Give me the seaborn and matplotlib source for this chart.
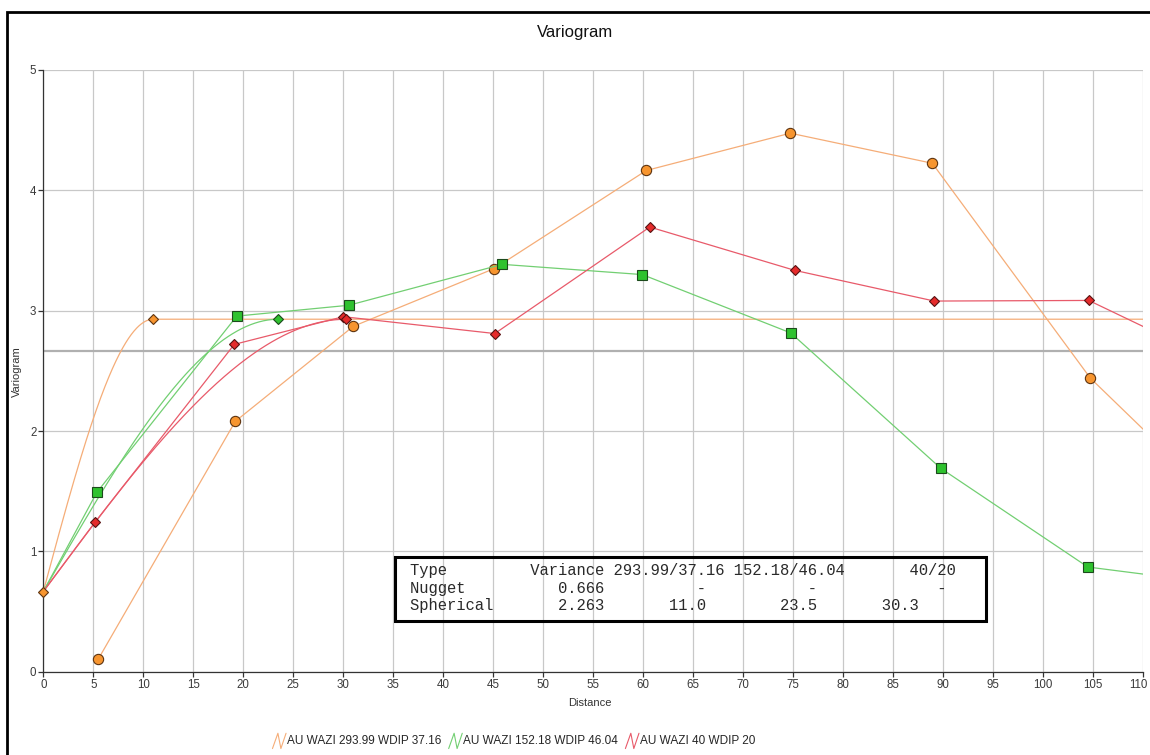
import numpy as np
import pandas as pd
import matplotlib
matplotlib.use("Agg")
import matplotlib.pyplot as plt
import seaborn as sns
from matplotlib.patches import Rectangle
from matplotlib.lines import Line2D
from matplotlib.legend_handler import HandlerBase
from matplotlib.transforms import ScaledTranslation

# ---- experimental variogram, one series per direction (azimuth / dip) ----
directions = ["293.99/37.16", "152.18/46.04", "40/20"]
legend_labels = ["AU WAZI 293.99 WDIP 37.16",
                 "AU WAZI 152.18 WDIP 46.04",
                 "AU WAZI 40 WDIP 20"]

lag_a = [5.5, 19.2, 31.0, 45.1, 60.3, 74.7, 88.9, 104.7, 119.5]
gam_a = [0.105, 2.08, 2.87, 3.35, 4.165, 4.475, 4.225, 2.44, 1.25]

lag_b = [0.0, 5.35, 19.35, 30.55, 45.9, 59.9, 74.75, 89.75, 104.45, 119.5]
gam_b = [0.666, 1.49, 2.955, 3.045, 3.385, 3.30, 2.815, 1.69, 0.87, 0.71]

lag_c = [0.0, 5.15, 19.1, 30.0, 45.15, 60.65, 75.15, 89.1, 104.55, 119.5]
gam_c = [0.666, 1.24, 2.72, 2.95, 2.81, 3.695, 3.335, 3.08, 3.085, 2.49]

# ---- fitted model: nugget + one spherical structure ----
nugget = 0.666
sill = 2.263
ranges = [11.0, 23.5, 30.3]
variance = 2.668

x_ticks = list(range(0, 111, 5))
y_ticks = [0, 1, 2, 3, 4, 5]

line_cols = ["#f5ad78", "#72cf72", "#e85a6a"]
fill_cols = ["#f7952f", "#2fc22f", "#e52b2b"]
edge_cols = ["#5e3410", "#1c4a1c", "#561212"]

sns.set_style("white")
plt.rcParams["font.family"] = ["Liberation Sans", "DejaVu Sans"]

W, H = 1150, 755
fig = plt.figure(figsize=(W / 100, H / 100), dpi=100)


def fx(px):
    return px / W


def fy(py):
    return 1 - py / H


ax = fig.add_axes([fx(43.3), fy(671.7), fx(1143.3) - fx(43.3), fy(70) - fy(671.7)])

# grid
for xv in x_ticks:
    ax.axvline(xv, color="#c8c8c8", lw=0.9, zorder=0)
for yv in y_ticks:
    ax.axhline(yv, color="#c8c8c8", lw=0.9, zorder=0)
ax.axhline(variance, color="#b0b0b0", lw=1.6, zorder=0.5)


def spherical(h, a):
    r = np.minimum(np.asarray(h) / a, 1.0)
    return nugget + sill * (1.5 * r - 0.5 * r ** 3)


# model curves
ends = [110.0, ranges[1], ranges[2]]
for a, end, col in zip(ranges, ends, line_cols):
    h = np.concatenate([np.linspace(0, a, 160), [end]])
    mdf = pd.DataFrame({"h": h, "g": spherical(h, a)})
    sns.lineplot(data=mdf, x="h", y="g", ax=ax, color=col, lw=0.9,
                 sort=False, estimator=None, zorder=2)

# experimental series
series = [(lag_a, gam_a, "o", 7.4, None),
          (lag_b, gam_b, "s", 7.0, list(range(1, len(lag_b)))),
          (lag_c, gam_c, "D", 5.2, list(range(1, len(lag_c))))]
for (lx, gy, mk, ms, every), lc, fc, ec in zip(series, line_cols, fill_cols, edge_cols):
    edf = pd.DataFrame({"lag": lx, "gamma": gy})
    sns.lineplot(data=edf, x="lag", y="gamma", ax=ax, color=lc, lw=0.9,
                 sort=False, estimator=None, marker=mk, markersize=ms,
                 markerfacecolor=fc, markeredgecolor=ec, markeredgewidth=0.8,
                 markevery=every, zorder=3)

# model markers: nugget at the origin and the sill reached at each range
ax.plot([0], [nugget], marker="D", ms=5.0, color=fill_cols[0], mec=edge_cols[0],
        mew=0.8, ls="none", zorder=4, clip_on=False)
for a, fc, ec in zip(ranges, fill_cols, edge_cols):
    ax.plot([a], [nugget + sill], marker="D", ms=5.0, color=fc, mec=ec,
            mew=0.8, ls="none", zorder=4)

ax.set_xlim(0, 110)
ax.set_ylim(0, 5)
ax.set_xticks(x_ticks)
ax.set_yticks(y_ticks)
ax.tick_params(axis="both", direction="out", length=3.5, width=0.9, color="#333333",
               labelsize=8.3, labelcolor="#3a3a3a", pad=1.5, left=True, bottom=True)
for side in ["top", "right"]:
    ax.spines[side].set_visible(False)
for side in ["left", "bottom"]:
    ax.spines[side].set_color("#333333")
    ax.spines[side].set_linewidth(0.9)
ax.set_xlabel("")
ax.set_ylabel("")

# keep the last distance label inside the canvas
last = ax.get_xticklabels()[-1]
last.set_transform(last.get_transform() + ScaledTranslation(-0.045, 0, fig.dpi_scale_trans))

fig.text(fx(590), fy(703), "Distance", ha="center", va="center", fontsize=8, color="#333333")
fig.text(fx(17), fy(372), "Variogram", ha="center", va="center", rotation=90,
         fontsize=8, color="#333333")
fig.text(fx(575), fy(32), "Variogram", ha="center", va="center", fontsize=12, color="#111111")

# parameter table
row1 = f"{'Type':<13}{'Variance':<9}{directions[0]:<13}{directions[1]:<12}{directions[2]:>12}"
row2 = f"{'Nugget':<11}{nugget:>10.3f}{'-':>11}{'-':>12}{'-':>14}"
row3 = f"{'Spherical':<11}{sill:>10.3f}{ranges[0]:>11.1f}{ranges[1]:>12.1f}{ranges[2]:>11.1f}"
fig.text(fx(410), fy(588), "\n".join([row1, row2, row3]), ha="left", va="center",
         family=["Liberation Mono", "DejaVu Sans Mono"], fontsize=11.2,
         linespacing=1.2, color="#2a2a2a")
fig.add_artist(Rectangle((fx(395), fy(621)), fx(986) - fx(395), fy(557) - fy(621),
                         transform=fig.transFigure, fill=False, ec="black", lw=2.2))

# outer frame (right and bottom edges run past the canvas)
fig.add_artist(Rectangle((fx(7), fy(762)), fx(1160) - fx(7), fy(12) - fy(762),
                         transform=fig.transFigure, fill=False, ec="black", lw=2.0,
                         clip_on=False))


class ZigZagHandler(HandlerBase):
    def create_artists(self, legend, orig_handle, xdescent, ydescent, width, height,
                       fontsize, trans):
        xs = np.array([0.0, 0.4, 0.62, 1.0]) * width - xdescent
        ys = np.array([-0.55, 1.3, -0.55, 1.3]) * height - ydescent
        ln = Line2D(xs, ys, color=orig_handle.get_color(), lw=0.8)
        ln.set_transform(trans)
        return [ln]


handles = [Line2D([], [], color=c) for c in line_cols]
fig.legend(handles, legend_labels, loc="center", bbox_to_anchor=(fx(514), fy(741)),
           ncol=3, frameon=False, fontsize=8.5, handlelength=1.15, handletextpad=0.1,
           columnspacing=0.6, handler_map={Line2D: ZigZagHandler()})

fig.savefig("out.png", dpi=100)
